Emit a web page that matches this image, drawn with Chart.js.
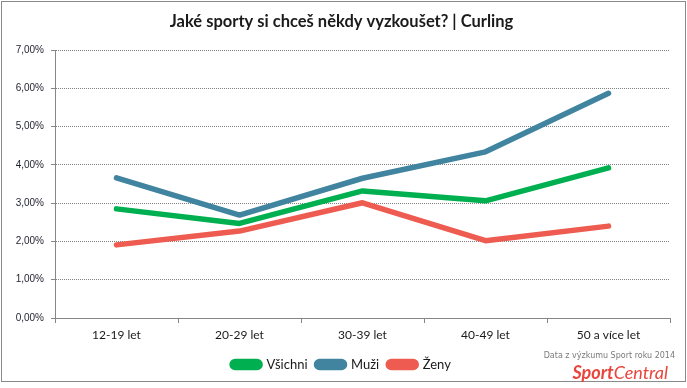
<!DOCTYPE html>
<html>
<head>
<meta charset="utf-8">
<script src="https://cdn.jsdelivr.net/npm/chart.js@4.4.1/dist/chart.umd.min.js"></script>
<style>
  html, body { margin: 0; padding: 0; background: #fff; }
  #wrap { width: 687px; height: 388px; }
</style>
</head>
<body>
<div id="wrap"><canvas id="curlingChart" width="687" height="388"></canvas></div>
<script>
const titleText = 'Jaké sporty si chceš někdy vyzkoušet? | Curling';
const categories = ['12-19 let', '20-29 let', '30-39 let', '40-49 let', '50 a více let'];
const vsichni = [2.85, 2.47, 3.32, 3.06, 3.92];
const muzi = [3.66, 2.69, 3.65, 4.34, 5.87];
const zeny = [1.91, 2.27, 3.01, 2.02, 2.40];
const seriesNames = ['Všichni', 'Muži', 'Ženy'];
const seriesColors = ['#00b050', '#4084a0', '#ee5b50'];

const canvas = document.getElementById('curlingChart');

// rám kolem grafu + logo vpravo dole
const framePlugin = {
  id: 'frame',
  beforeDraw(chart) {
    const ctx = chart.ctx;
    ctx.save();
    ctx.fillStyle = '#ffffff';
    ctx.fillRect(0, 0, chart.width, chart.height);
    ctx.strokeStyle = '#8a8a8a';
    ctx.lineWidth = 1;
    ctx.strokeRect(1.5, 1.5, 684, 380);
    ctx.restore();
  },
  afterDraw(chart) {
    const ctx = chart.ctx;
    ctx.save();
    ctx.textBaseline = 'middle';
    ctx.textAlign = 'right';
    ctx.fillStyle = '#7a7a7a';
    ctx.font = '8px "DejaVu Sans"';
    ctx.fillText('Data z výzkumu Sport roku 2014', 675, 356);

    ctx.fillStyle = '#e8453c';
    ctx.textAlign = 'left';
    ctx.font = 'italic bold 18px Lato';
    const w1 = ctx.measureText('Sport').width;
    ctx.font = 'italic 18px Lato';
    const w2 = ctx.measureText('Central').width;
    const x0 = 668 - w1 - w2;
    ctx.font = 'italic bold 18px Lato';
    ctx.fillText('Sport', x0, 373);
    ctx.font = 'italic 18px Lato';
    ctx.fillText('Central', x0 + w1, 373);
    ctx.restore();
  }
};

const makeDataset = (label, data, color) => ({
  label,
  data,
  borderColor: color,
  backgroundColor: color,
  borderWidth: 5.5,
  pointRadius: 0,
  pointHoverRadius: 0,
  tension: 0,
  borderCapStyle: 'round',
  borderJoinStyle: 'round'
});

new Chart(canvas, {
  type: 'line',
  data: {
    labels: categories,
    datasets: [
      makeDataset(seriesNames[0], vsichni, seriesColors[0]),
      makeDataset(seriesNames[1], muzi, seriesColors[1]),
      makeDataset(seriesNames[2], zeny, seriesColors[2])
    ]
  },
  options: {
    responsive: false,
    animation: false,
    layout: {
      padding: { left: 13, right: 17, top: 0, bottom: 7 }
    },
    plugins: {
      title: {
        display: true,
        text: titleText,
        color: '#1a1a1a',
        font: { family: 'Lato', size: 16.5, weight: 'bold', lineHeight: 1.2 },
        padding: { top: 12, bottom: 18.2 }
      },
      legend: {
        display: true,
        position: 'bottom',
        labels: {
          color: '#1a1a1a',
          font: { family: 'Lato', size: 13 },
          boxWidth: 28,
          boxHeight: 6,
          useBorderRadius: true,
          borderRadius: 3,
          padding: 9
        }
      },
      tooltip: { enabled: false }
    },
    scales: {
      x: {
        offset: true,
        afterFit: (scale) => { scale.height = 31; },
        grid: {
          offset: true,
          drawOnChartArea: false,
          drawTicks: true,
          tickLength: 5,
          tickColor: '#868686'
        },
        border: { display: true, color: '#868686', width: 1 },
        ticks: {
          color: '#1a1a1a',
          font: { family: 'Lato', size: 12 },
          padding: 5,
          maxRotation: 0
        }
      },
      y: {
        min: 0,
        max: 7,
        afterFit: (scale) => { scale.width = 42; },
        ticks: {
          stepSize: 1,
          color: '#1f1f2e',
          font: { family: 'Liberation Sans', size: 10 },
          padding: 7,
          callback: (value) => value.toFixed(2).replace('.', ',') + '%'
        },
        grid: {
          color: '#808080',
          lineWidth: 1,
          tickLength: 4,
          tickColor: '#868686',
          tickBorderDash: []
        },
        border: { display: true, color: '#868686', width: 1, dash: [1, 1] }
      }
    }
  },
  plugins: [framePlugin]
});
</script>
</body>
</html>
